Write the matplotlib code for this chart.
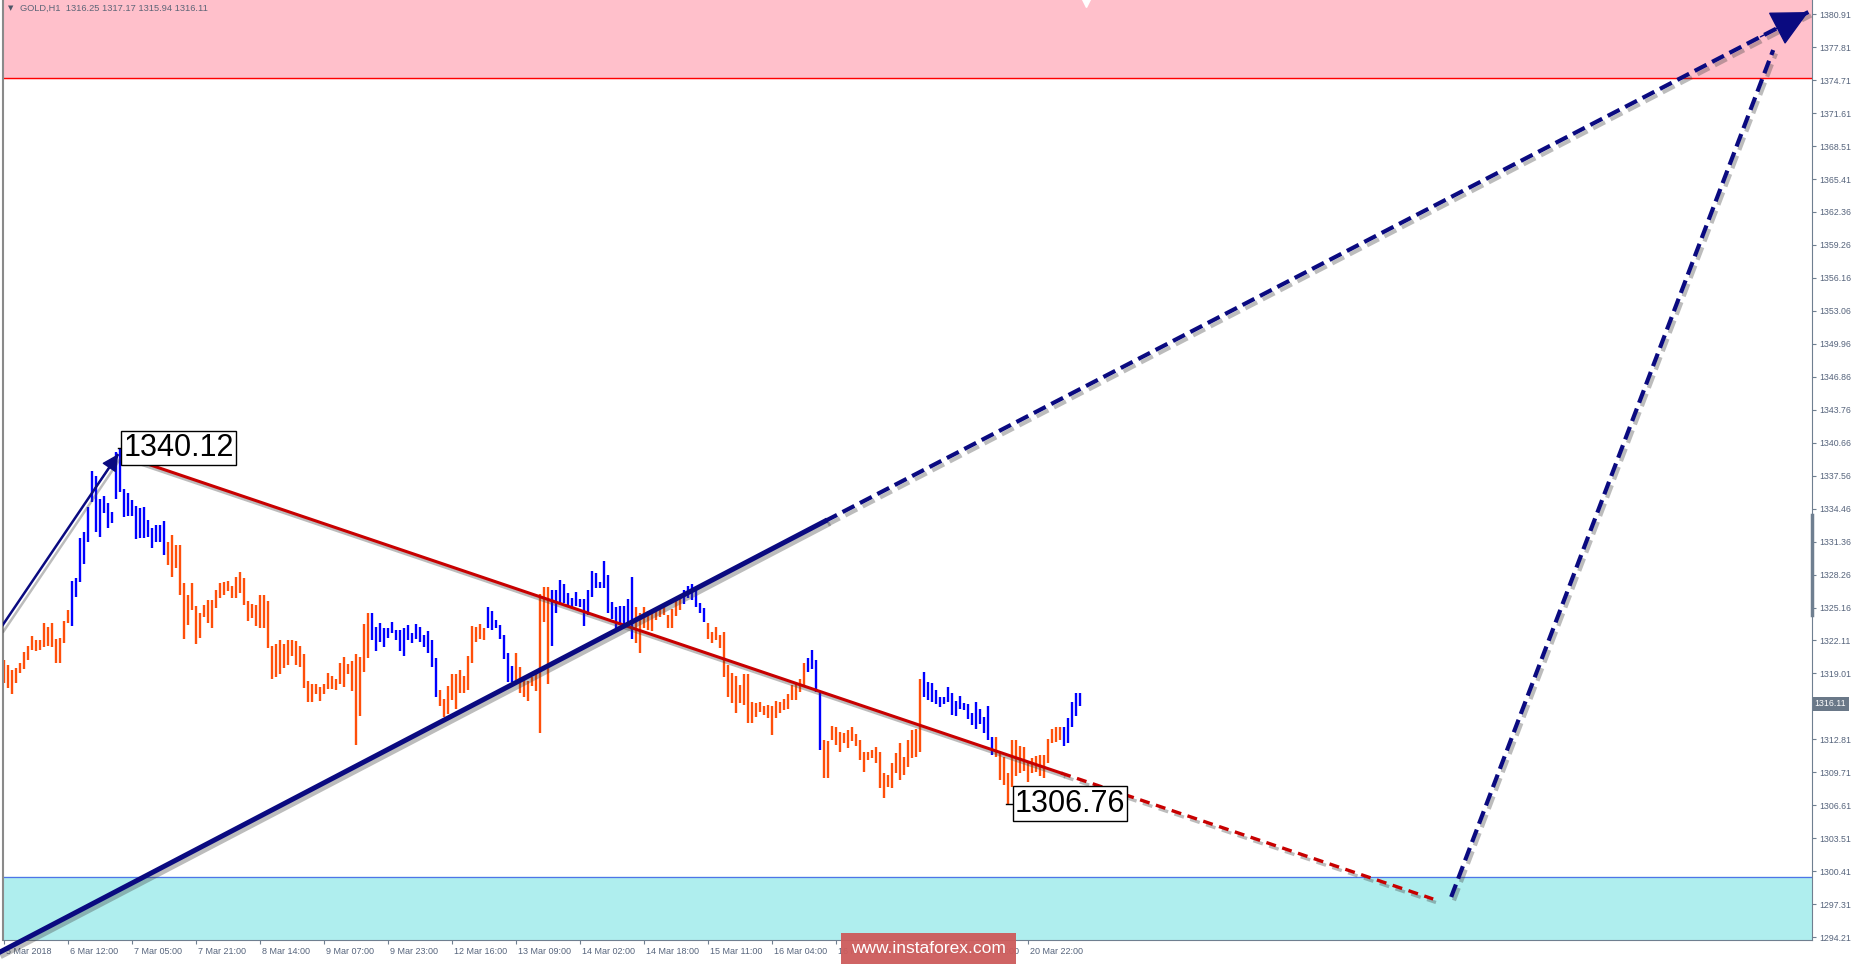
import numpy as np
import matplotlib.pyplot as plt
import matplotlib.patheffects as pe
from matplotlib.patches import FancyArrowPatch, Rectangle
from matplotlib.transforms import ScaledTranslation, blended_transform_factory

# H1 bars (high / low per bar)
highs = [
    1320.2, 1319.8, 1319.3, 1319.5, 1320.0, 1321.0, 1321.6, 1322.5, 1322.1, 1322.1,
    1323.7, 1323.3, 1323.7, 1322.2, 1322.3, 1323.9, 1324.9, 1327.7, 1327.9, 1331.7,
    1332.3, 1334.6, 1338.0, 1337.5, 1335.4, 1335.6, 1335.0, 1334.1, 1339.8, 1340.12,
    1336.3, 1335.9, 1335.3, 1334.7, 1334.5, 1334.6, 1333.4, 1332.6, 1332.9, 1332.9,
    1333.3, 1331.3, 1332.0, 1331.0, 1331.0, 1327.5, 1326.3, 1327.5, 1325.3, 1324.7,
    1325.4, 1325.9, 1325.9, 1326.8, 1327.5, 1327.6, 1327.7, 1327.2, 1328.0, 1328.5,
    1327.9, 1325.8, 1325.5, 1325.4, 1326.3, 1326.3, 1325.8, 1321.6, 1321.7, 1322.1,
    1321.7, 1322.1, 1322.1, 1322.0, 1321.6, 1320.8, 1318.3, 1318.0, 1318.0, 1317.7,
    1318.0, 1319.0, 1318.7, 1318.5, 1320.0, 1320.5, 1319.9, 1320.1, 1320.8, 1320.5,
    1323.6, 1324.7, 1324.7, 1323.3, 1323.7, 1323.2, 1323.2, 1323.8, 1323.1, 1323.1,
    1323.2, 1323.5, 1322.8, 1323.6, 1323.3, 1322.6, 1323.0, 1322.1, 1320.4, 1317.4,
    1316.6, 1317.8, 1318.9, 1318.9, 1319.3, 1318.7, 1320.6, 1323.4, 1323.3, 1323.6,
    1323.2, 1325.2, 1324.8, 1324.0, 1323.5, 1322.6, 1320.9, 1319.7, 1320.9, 1319.6,
    1318.5, 1318.3, 1318.6, 1319.0, 1326.4, 1327.1, 1327.1, 1326.8, 1326.8, 1327.8,
    1327.4, 1326.5, 1326.1, 1326.6, 1326.0, 1326.0, 1326.8, 1328.6, 1328.4, 1327.6,
    1329.5, 1328.2, 1325.7, 1325.2, 1325.3, 1325.3, 1326.0, 1328.0, 1325.2, 1324.7,
    1325.2, 1324.8, 1324.7, 1325.0, 1325.1, 1325.4, 1324.5, 1325.0, 1325.9, 1326.1,
    1326.8, 1327.2, 1327.4, 1327.0, 1325.6, 1325.1, 1323.7, 1322.9, 1323.3, 1322.6,
    1322.9, 1319.8, 1319.0, 1318.7, 1317.9, 1318.9, 1318.9, 1316.3, 1316.2, 1316.3,
    1315.9, 1316.0, 1315.9, 1316.4, 1316.3, 1316.6, 1317.0, 1317.9, 1318.1, 1318.5,
    1320.0, 1320.4, 1321.2, 1320.2, 1317.2, 1312.7, 1312.6, 1314.0, 1313.9, 1313.5,
    1313.4, 1313.7, 1313.9, 1313.3, 1312.7, 1311.6, 1311.6, 1311.8, 1312.1, 1311.6,
    1309.6, 1309.4, 1310.6, 1311.5, 1312.4, 1311.1, 1312.7, 1313.7, 1313.8, 1318.5,
    1319.1, 1318.2, 1318.1, 1317.4, 1316.8, 1316.8, 1317.7, 1317.1, 1316.4, 1316.9,
    1316.2, 1316.1, 1315.3, 1316.3, 1315.6, 1314.9, 1315.9, 1313.0, 1313.0, 1311.5,
    1311.1, 1309.6, 1312.7, 1312.7, 1312.2, 1312.1, 1310.7, 1311.0, 1311.2, 1311.3,
    1311.3, 1312.8, 1313.8, 1313.9, 1313.9, 1313.9, 1314.8, 1316.3, 1317.1, 1317.17,
]
lows = [
    1318.1, 1317.6, 1317.0, 1318.1, 1319.0, 1319.4, 1320.2, 1321.2, 1321.1, 1321.2,
    1321.5, 1321.6, 1321.5, 1320.0, 1320.0, 1321.8, 1323.7, 1323.4, 1326.2, 1327.6,
    1329.3, 1331.3, 1335.1, 1332.3, 1331.8, 1334.0, 1332.6, 1333.1, 1335.4, 1336.0,
    1333.7, 1333.8, 1333.8, 1331.6, 1331.7, 1331.7, 1331.8, 1330.8, 1331.3, 1331.3,
    1330.1, 1329.2, 1328.0, 1328.9, 1326.3, 1322.2, 1323.5, 1324.9, 1321.7, 1322.3,
    1324.3, 1323.7, 1323.2, 1325.1, 1326.1, 1326.3, 1326.7, 1326.1, 1326.1, 1326.5,
    1325.4, 1323.9, 1324.2, 1323.4, 1323.2, 1323.2, 1321.4, 1318.5, 1318.6, 1318.9,
    1319.5, 1319.8, 1320.6, 1319.8, 1319.6, 1317.6, 1316.3, 1316.3, 1317.0, 1316.4,
    1317.0, 1317.5, 1317.5, 1317.4, 1318.0, 1317.7, 1318.9, 1317.3, 1312.3, 1315.0,
    1319.1, 1320.4, 1322.1, 1321.1, 1321.9, 1321.5, 1322.3, 1322.8, 1322.1, 1321.1,
    1320.6, 1322.1, 1321.8, 1322.2, 1321.9, 1321.5, 1320.9, 1319.6, 1316.8, 1315.9,
    1314.9, 1315.2, 1316.5, 1315.6, 1317.1, 1317.1, 1317.4, 1320.0, 1321.9, 1322.2,
    1322.1, 1323.2, 1323.1, 1323.2, 1322.2, 1320.3, 1318.2, 1318.2, 1318.4, 1317.1,
    1316.8, 1316.4, 1317.8, 1317.3, 1313.4, 1323.8, 1318.0, 1321.6, 1324.7, 1325.6,
    1325.6, 1325.3, 1325.2, 1325.3, 1325.2, 1323.4, 1324.5, 1326.2, 1327.0, 1327.0,
    1327.0, 1324.7, 1324.1, 1323.2, 1323.5, 1323.2, 1323.3, 1322.2, 1321.8, 1320.9,
    1323.2, 1323.1, 1323.0, 1324.0, 1324.3, 1324.5, 1323.2, 1323.2, 1324.4, 1324.9,
    1325.5, 1326.1, 1325.9, 1325.2, 1324.7, 1323.8, 1322.2, 1321.8, 1322.1, 1321.4,
    1318.6, 1316.8, 1316.2, 1315.3, 1316.2, 1316.0, 1314.3, 1314.3, 1314.9, 1315.4,
    1315.1, 1314.8, 1313.2, 1314.8, 1315.3, 1315.5, 1315.6, 1316.5, 1316.5, 1317.2,
    1317.8, 1319.1, 1319.4, 1317.2, 1311.8, 1309.2, 1309.2, 1312.7, 1312.3, 1311.6,
    1312.4, 1312.0, 1312.6, 1312.2, 1310.8, 1309.7, 1310.8, 1311.0, 1310.6, 1308.2,
    1307.3, 1308.3, 1308.2, 1309.6, 1309.0, 1309.4, 1310.2, 1311.0, 1311.1, 1311.6,
    1316.8, 1316.5, 1316.3, 1316.1, 1315.8, 1316.1, 1316.3, 1315.1, 1315.0, 1315.6,
    1315.5, 1314.7, 1314.1, 1313.8, 1314.2, 1313.4, 1312.7, 1311.3, 1311.1, 1309.0,
    1308.5, 1306.76, 1308.3, 1309.3, 1309.6, 1309.8, 1308.8, 1309.6, 1309.7, 1309.3,
    1309.2, 1310.6, 1312.4, 1312.5, 1312.7, 1312.2, 1312.4, 1313.9, 1315.0, 1315.94,
]
# bar index where the bar colour switches (starts orange)
wave_breaks = [17, 41, 92, 109, 121, 128, 137, 158, 170, 176, 201, 205, 230, 248, 265]

date_ticks = [0, 16, 32, 48, 64, 80, 96, 112, 128, 144, 160, 176, 192, 208, 224, 240, 256]
date_labels = ["5 Mar 2018", "6 Mar 12:00", "7 Mar 05:00", "7 Mar 21:00", "8 Mar 14:00",
               "9 Mar 07:00", "9 Mar 23:00", "12 Mar 16:00", "13 Mar 09:00", "14 Mar 02:00",
               "14 Mar 18:00", "15 Mar 11:00", "16 Mar 04:00", "16 Mar 21:00", "19 Mar 13:00",
               "20 Mar 05:00", "20 Mar 22:00"]
price_ticks = [1380.91, 1377.81, 1374.71, 1371.61, 1368.51, 1365.41, 1362.36, 1359.26,
               1356.16, 1353.06, 1349.96, 1346.86, 1343.76, 1340.66, 1337.56, 1334.46,
               1331.36, 1328.26, 1325.16, 1322.11, 1319.01, 1312.81, 1309.71, 1306.61,
               1303.51, 1300.41, 1297.31, 1294.21]
last_price = 1316.11
header = "GOLD,H1  1316.25 1317.17 1315.94 1316.11"

sell_zone = 1374.95
buy_zone = 1299.9
peak_idx, peak_price = 29, 1340.12
low_idx, low_price = 251, 1306.76

# wave lines: (bar index list, price list)
up_wave_x, up_wave_y = [-1.07, 28.5], [1323.15, 1339.58]
down_x, down_y = [30.7, 264.2], [1339.30, 1309.62]
down_fc_x, down_fc_y = [264.2, 357.2], [1309.62, 1297.79]
trend_x, trend_y = [-1.07, 205.2], [1292.81, 1333.29]
trend_fc_x, trend_fc_y = [205.2, 451.0], [1333.29, 1381.10]
final_x, final_y = [361.7, 442.2], [1297.98, 1377.53]

W, H = 1857, 964
fig = plt.figure(figsize=(W / 100, H / 100), dpi=100)
fig.patch.set_facecolor("white")
ax = fig.add_axes([3 / W, 24 / H, 1809 / W, 940 / H])
ymin, ymax = 1293.94, 1382.23
ax.set_xlim(-0.325, 451.9)
ax.set_ylim(ymin, ymax)

axis_col = "#6f7f90"
txt_col = "#56647c"
orange = "#ff4f0a"
navy = "#0a0a80"
red = "#c80000"

# zones
ax.axhspan(sell_zone, ymax, color="#ffc0cb", zorder=0)
ax.axhline(sell_zone, color="#ff0000", lw=1, zorder=1)
ax.axhspan(ymin, buy_zone, color="#afeeee", zorder=0)
ax.axhline(buy_zone, color="#4f74e8", lw=0.9, zorder=1)

# bars
idx = np.arange(len(highs))
seg = np.searchsorted(wave_breaks, idx, side="right")
cols = [orange if s % 2 == 0 else "#0000ff" for s in seg]
ax.vlines(idx, lows, highs, colors=cols, lw=1.7, capstyle="butt", zorder=2)

shadow = [pe.SimpleLineShadow(offset=(2, -2.5), shadow_color="#404040", alpha=0.35), pe.Normal()]

ax.plot(up_wave_x, up_wave_y, color=navy, lw=1.8, zorder=4, path_effects=shadow,
        solid_capstyle="butt")
ax.add_patch(FancyArrowPatch((up_wave_x[0] + 0.8 * (up_wave_x[1] - up_wave_x[0]),
                              up_wave_y[0] + 0.8 * (up_wave_y[1] - up_wave_y[0])),
                             (up_wave_x[1], up_wave_y[1]), arrowstyle="-|>", mutation_scale=26,
                             color=navy, lw=1, zorder=4, shrinkA=0, shrinkB=0))

ax.plot(down_x, down_y, color=red, lw=2.2, zorder=4, path_effects=shadow)
ax.plot(down_fc_x, down_fc_y, color=red, lw=2.4, ls=(0, (3, 2)), zorder=4, path_effects=shadow)

ax.plot(trend_x, trend_y, color=navy, lw=3.6, zorder=5, path_effects=shadow, clip_on=False)
ax.plot(trend_fc_x, trend_fc_y, color=navy, lw=3.0, ls=(0, (3.2, 1.5)), zorder=5,
        path_effects=shadow)
ax.plot(final_x, final_y, color=navy, lw=3.0, ls=(0, (3.2, 1.5)), zorder=5, path_effects=shadow)
ax.add_patch(FancyArrowPatch((trend_fc_x[1] - 12, trend_fc_y[1] - 12 * 0.1945),
                             (trend_fc_x[1], trend_fc_y[1]), arrowstyle="-|>", mutation_scale=60,
                             color=navy, lw=1, zorder=6, shrinkA=0, shrinkB=0, clip_on=False))

# extreme price labels
for i, p, dx in [(peak_idx, peak_price, 0.8), (low_idx, low_price, 1.6)]:
    ax.plot([i - 0.7, i + dx], [p, p], color="black", lw=1, zorder=6)
    ax.text(i + dx, p, f"{p:.2f}", fontsize=22, family="Liberation Sans", va="center",
            ha="left", zorder=7,
            bbox=dict(boxstyle="square,pad=0.07", fc="white", ec="black", lw=1))

# axes styling
ax.spines["top"].set_visible(False)
ax.spines["left"].set_color("#8a8a8a")
ax.spines["left"].set_linewidth(1.5)
ax.spines["bottom"].set_color(axis_col)
ax.spines["right"].set_color(axis_col)
ax.yaxis.tick_right()
ax.set_yticks(price_ticks)
ax.set_yticklabels([f"{p:.2f}" for p in price_ticks])
ax.tick_params(axis="y", direction="out", length=3, width=0.8, color=axis_col,
               labelsize=6.3, labelcolor=txt_col, pad=2)
ax.set_xticks(date_ticks)
ax.set_xticklabels(date_labels, ha="left")
ax.tick_params(axis="x", direction="out", length=3, width=0.8, color=axis_col,
               labelsize=6.5, labelcolor=txt_col, pad=2)
off = ScaledTranslation(2 / 100, 0, fig.dpi_scale_trans)
for lab in ax.get_xticklabels():
    lab.set_transform(lab.get_transform() + off)
    lab.set_family("Liberation Sans")
for lab in ax.get_yticklabels():
    lab.set_family("Liberation Sans")

bt = blended_transform_factory(ax.transAxes, ax.transData)
ax.plot([1, 1], [1333.9, 1324.5], transform=bt, color=axis_col, lw=2.5, clip_on=False)
ax.text(1.0015, last_price, last_price, transform=bt, fontsize=6.3, color="white",
        family="Liberation Sans", va="center", ha="left",
        bbox=dict(boxstyle="square,pad=0.25", fc="#6a7888", ec="none"))

# chart shift marker
ax.plot(len(highs) + 0.4, ymax - 0.25, marker="v", color="white", ms=6, clip_on=False, zorder=8)

# header
fig.text(8 / W, 1 - 8 / H, "\u25bc", fontsize=5, color="#4d5566", va="center")
fig.text(20 / W, 1 - 8 / H, header, fontsize=6.7, color="#5c6577", va="center",
         family="Liberation Sans")

# watermark (covers a few date labels, as in the original)
fig.patches.append(Rectangle((841 / W, 0), 175 / W, 31 / H, transform=fig.transFigure,
                             fc="#cd5c5c", ec="none", alpha=0.95, zorder=10))
fig.text(928.5 / W, 15.5 / H, "www.instaforex.com", fontsize=12.5, color="white",
         ha="center", va="center", family="Liberation Sans", zorder=11)

fig.savefig("out.png", dpi=100)
